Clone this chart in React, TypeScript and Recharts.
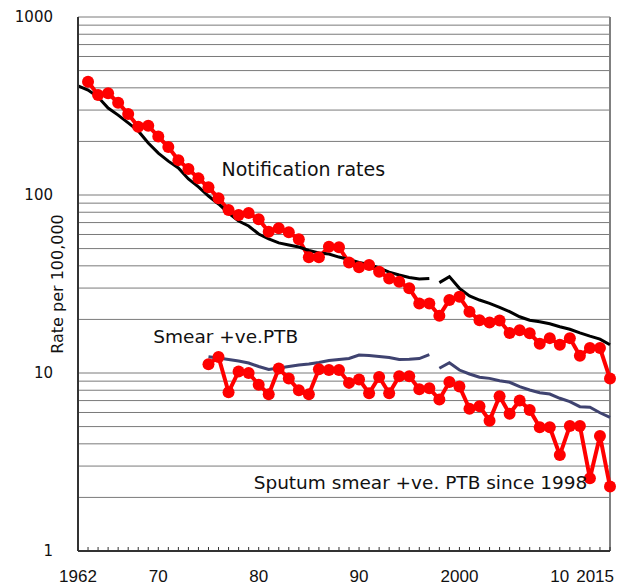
import React from "react";
import {
  LineChart,
  Line,
  XAxis,
  YAxis,
  CartesianGrid,
  ReferenceLine,
  ReferenceDot,
} from "recharts";

const years = [
  1962, 1963, 1964, 1965, 1966, 1967, 1968, 1969, 1970, 1971, 1972, 1973,
  1974, 1975, 1976, 1977, 1978, 1979, 1980, 1981, 1982, 1983, 1984, 1985,
  1986, 1987, 1988, 1989, 1990, 1991, 1992, 1993, 1994, 1995, 1996, 1997,
  1998, 1999, 2000, 2001, 2002, 2003, 2004, 2005, 2006, 2007, 2008, 2009,
  2010, 2011, 2012, 2013, 2014, 2015,
];

// red dots, notification rate, 1963-2015
const notification = [
  433, 365, 373, 330, 285, 242, 245, 213, 186, 157, 140, 124, 110.5, 95.8,
  82.4, 77.2, 79.2, 73.0, 62.2, 65.0, 61.7, 56.4, 44.7, 44.7, 51.2, 50.8, 41.7,
  39.3, 40.4, 37.1, 34.0, 32.6, 29.9, 24.6, 24.6, 21.0, 25.7, 26.8, 22.1, 19.8,
  19.2, 19.7, 16.8, 17.4, 16.7, 14.6, 15.7, 14.4, 15.7, 12.5, 13.8, 13.8, 9.3,
];

// black line, 1962-1997 and 1998-2015
const refRateOld = [
  410, 389, 355, 308, 281, 254, 229, 196, 172, 155, 142, 123, 111, 98.7, 89.0,
  79.2, 71.4, 67.0, 60.4, 56.6, 53.8, 52.4, 51.0, 48.8, 47.2, 46.6, 44.8, 43.4,
  41.8, 40.7, 38.9, 36.9, 35.5, 34.4, 33.7, 34.0,
];
const refRateNew = [
  32.2, 34.8, 29.9, 27.1, 25.7, 24.6, 23.4, 22.1, 20.7, 19.8, 19.4, 18.9, 18.2,
  17.6, 16.8, 16.1, 15.5, 14.4,
];

// red dots, smear +ve PTB, 1975-2015
const smearPtb = [
  11.2, 12.3, 7.8, 10.2, 10.0, 8.6, 7.6, 10.6, 9.3, 8.0, 7.6, 10.5, 10.4, 10.4,
  8.8, 9.2, 7.7, 9.5, 7.7, 9.6, 9.6, 8.1, 8.2, 7.1, 8.9, 8.4, 6.3, 6.5, 5.4,
  7.4, 5.9, 7.0, 6.2, 4.95, 4.95, 3.46, 5.04, 5.04, 2.56, 4.43, 2.3,
];

// navy line, 1975-1997 and 1998-2015
const smearRefOld = [
  12.35, 12.14, 11.91, 11.68, 11.38, 10.88, 10.46, 10.67, 10.88, 11.09, 11.23,
  11.46, 11.75, 11.91, 12.06, 12.62, 12.54, 12.38, 12.22, 11.91, 11.94, 12.06,
  12.7,
];
const smearRefNew = [
  10.63, 11.43, 10.39, 9.87, 9.46, 9.33, 9.05, 8.87, 8.38, 8.03, 7.75, 7.62,
  7.21, 6.9, 6.47, 6.42, 5.98, 5.64,
];

const yTicks = [
  1, 2, 3, 4, 5, 6, 7, 8, 9, 10, 20, 30, 40, 50, 60, 70, 80, 90, 100, 200, 300,
  400, 500, 600, 700, 800, 900, 1000,
];
const yLabels = [1, 10, 100, 1000];
const xLabelYears = [1962, 1970, 1980, 1990, 2000, 2010, 2015];
const xLabelTexts = ["1962", "70", "80", "90", "2000", "10", "2015"];

const pick = (arr: number[], start: number, year: number) => {
  const i = year - start;
  return i >= 0 && i < arr.length ? arr[i] : null;
};

const data = years.map((year) => ({
  year,
  notif: pick(notification, 1963, year),
  refOld: pick(refRateOld, 1962, year),
  refNew: pick(refRateNew, 1998, year),
  smear: pick(smearPtb, 1975, year),
  smearOld: pick(smearRefOld, 1975, year),
  smearNew: pick(smearRefNew, 1998, year),
}));

const font = "'DejaVu Sans', Verdana, sans-serif";

function XTick(props: any) {
  const { x, y, payload } = props;
  const idx = xLabelYears.indexOf(payload.value);
  const last = payload.value === 2015;
  return (
    <g>
      <line x1={x} x2={x} y1={y} y2={y - 4} stroke="#333" strokeWidth={1} />
      {idx >= 0 && (
        <text
          x={last ? x + 4 : x}
          y={y + 31}
          textAnchor={last ? "end" : "middle"}
          fontFamily="'Liberation Sans', Arial, sans-serif"
          fontSize={17}
          fill="#111"
        >
          {xLabelTexts[idx]}
        </text>
      )}
    </g>
  );
}

function YTick(props: any) {
  const { x, y, payload } = props;
  if (!yLabels.includes(payload.value)) return <g />;
  return (
    <text
      x={x - 25}
      y={y + 5}
      textAnchor="end"
      fontFamily={font}
      fontSize={15}
      fill="#111"
    >
      {payload.value}
    </text>
  );
}

const note = (text: string, size: number) => (p: any) => {
  const vb = p.viewBox || {};
  return (
    <text x={vb.x} y={vb.y} fontFamily={font} fontSize={size} fill="#111">
      {text}
    </text>
  );
};

export default function App() {
  return (
    <div style={{ position: "absolute", left: 0, top: 0, background: "#fff" }}>
      <LineChart
        width={625}
        height={585}
        data={data}
        margin={{ top: 17, right: 15, bottom: 0, left: 18 }}
      >
        <CartesianGrid vertical={false} stroke="#7a7a7a" strokeWidth={1} />
        <XAxis
          dataKey="year"
          type="number"
          domain={[1962, 2015]}
          ticks={years}
          interval={0}
          tick={<XTick />}
          tickLine={false}
          tickSize={0}
          tickMargin={0}
          height={34}
          axisLine={{ stroke: "#333", strokeWidth: 2 }}
        />
        <YAxis
          scale="log"
          domain={[1, 1000]}
          ticks={yTicks}
          interval={0}
          tick={<YTick />}
          tickLine={false}
          tickSize={0}
          tickMargin={0}
          width={60}
          axisLine={{ stroke: "#333", strokeWidth: 2 }}
          label={{
            content: (p: any) => {
              const vb = p.viewBox;
              const cx = vb.x + 40;
              const cy = vb.y + vb.height / 2;
              return (
                <text
                  x={cx}
                  y={cy}
                  transform={`rotate(-90 ${cx} ${cy})`}
                  textAnchor="middle"
                  dominantBaseline="middle"
                  fontFamily={font}
                  fontSize={16}
                  fill="#111"
                >
                  Rate per 100,000
                </text>
              );
            },
          }}
        />
        <ReferenceLine x={2015} stroke="#808080" strokeWidth={2} />
        <Line
          dataKey="notif"
          stroke="#ff0000"
          strokeWidth={4}
          dot={{ r: 6, fill: "#ff0000", stroke: "#ff0000", strokeWidth: 0 }}
          isAnimationActive={false}
        />
        <Line
          dataKey="smear"
          stroke="#ff0000"
          strokeWidth={4}
          dot={{ r: 6, fill: "#ff0000", stroke: "#ff0000", strokeWidth: 0 }}
          isAnimationActive={false}
        />
        <Line
          dataKey="refOld"
          stroke="#000"
          strokeWidth={3}
          dot={false}
          isAnimationActive={false}
        />
        <Line
          dataKey="refNew"
          stroke="#000"
          strokeWidth={3}
          dot={false}
          isAnimationActive={false}
        />
        <Line
          dataKey="smearOld"
          stroke="#3f4370"
          strokeWidth={3}
          dot={false}
          isAnimationActive={false}
        />
        <Line
          dataKey="smearNew"
          stroke="#3f4370"
          strokeWidth={3}
          dot={false}
          isAnimationActive={false}
        />
        <ReferenceDot
          x={1976.3}
          y={128}
          r={0}
          label={{ content: note("Notification rates", 19) }}
        />
        <ReferenceDot
          x={1969.5}
          y={14.7}
          r={0}
          label={{ content: note("Smear +ve.PTB", 18.5) }}
        />
        <ReferenceDot
          x={1979.5}
          y={2.23}
          r={0}
          label={{ content: note("Sputum smear +ve. PTB since 1998", 18.5) }}
        />
      </LineChart>
    </div>
  );
}
